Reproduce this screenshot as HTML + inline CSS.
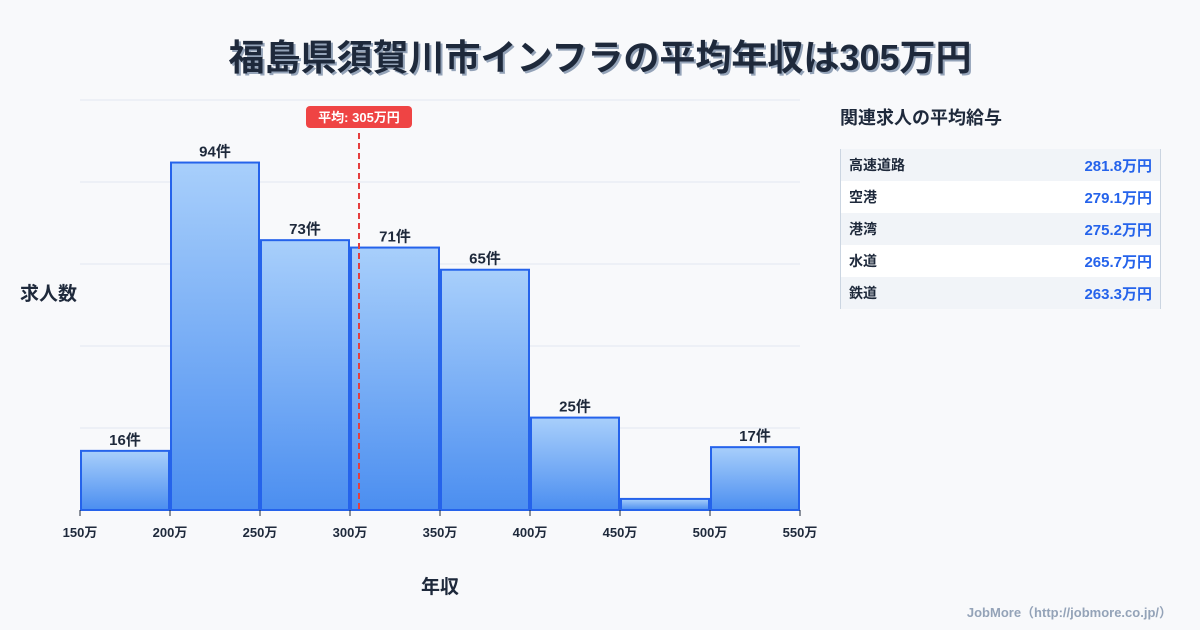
<!DOCTYPE html>
<html><head><meta charset="utf-8"><style>
body{margin:0;width:1200px;height:630px;background:#f8f9fb;font-family:"Liberation Sans","Noto Sans CJK JP",sans-serif;overflow:hidden;position:relative}
.title{position:absolute;left:0;width:1200px;top:29px;text-align:center;font-size:36px;font-weight:bold;color:#1e293b;text-shadow:2px 2px 0 #94a3b8;letter-spacing:0px}
.side{position:absolute;left:840px;top:104px;font-size:18px;font-weight:bold;color:#1e293b}
table{position:absolute;left:840px;top:149px;width:321px;border-collapse:collapse;border-left:1px solid #cbd5e1;border-right:1px solid #cbd5e1}
td{height:32px;padding:0 8px;font-size:14px;color:#1e293b;font-weight:bold}
td.v{text-align:right;color:#2563eb;font-size:15px}
tr:nth-child(odd){background:#f1f4f8}tr:nth-child(even){background:#fff}
.foot{position:absolute;right:28px;top:602px;font-size:13px;color:#94a3b8;font-weight:bold}
</style></head><body>
<div class="title">福島県須賀川市インフラの平均年収は305万円</div>
<svg id="chart" width="830" height="630" style="position:absolute;left:0;top:0">
<defs><linearGradient id="g" x1="0" y1="0" x2="0" y2="1"><stop offset="0" stop-color="#a8cffb"/><stop offset="1" stop-color="#4b8ef0"/></linearGradient></defs>
</svg>
<div class="side">関連求人の平均給与</div>
<table>
<tr><td>高速道路</td><td class="v">281.8万円</td></tr>
<tr><td>空港</td><td class="v">279.1万円</td></tr>
<tr><td>港湾</td><td class="v">275.2万円</td></tr>
<tr><td>水道</td><td class="v">265.7万円</td></tr>
<tr><td>鉄道</td><td class="v">263.3万円</td></tr>
</table>
<div class="foot">JobMore（http://jobmore.co.jp/）</div>
<script>
const binStarts=[150,200,250,300,350,400,450,500];
const counts=[16,94,73,71,65,25,3,17];
const tickLabels=["150万","200万","250万","300万","350万","400万","450万","500万","550万"];
const ticks=[150,200,250,300,350,400,450,500,550];
const avg=305;
const binW=50;
const NS="http://www.w3.org/2000/svg";
const svg=document.getElementById('chart');
const L=80,R=800,T=100,B=510;
const yMax=Math.max(...counts)*1.18;
const x=v=>L+(v-150)/400*(R-L);
const y=v=>B-v/yMax*(B-T);
function mk(t,a){const e=document.createElementNS(NS,t);for(const k in a)e.setAttribute(k,a[k]);svg.appendChild(e);return e;}
for(let i=0;i<=5;i++){const g=mk('line',{x1:L,x2:R,y1:T+i*(B-T)/5,y2:T+i*(B-T)/5,stroke:'#e2e8f0','stroke-width':1});

}
counts.forEach((c,i)=>{
const x0=x(binStarts[i])+1,x1=x(binStarts[i]+binW)-1;
const r=mk('rect',{x:x0,y:y(c),width:x1-x0,height:B-y(c),fill:'url(#g)',stroke:'#2563eb','stroke-width':2});


if(c>=10){const t=mk('text',{x:(x0+x1)/2,y:y(c)-6,'text-anchor':'middle','font-size':15,'font-weight':'bold',fill:'#1e293b'});t.textContent=c+'件';

}
});
ticks.forEach((v,i)=>{
const l=mk('line',{x1:x(v),x2:x(v),y1:B,y2:B+6,stroke:'#1e293b','stroke-width':1});


const t=mk('text',{x:x(v),y:B+27,'text-anchor':'middle','font-size':13,'font-weight':'bold',fill:'#1e293b'});t.textContent=tickLabels[i];


});
const ax=x(avg);
const al=mk('line',{x1:ax,x2:ax,y1:133,y2:B,stroke:'#e53e3e','stroke-width':2,'stroke-dasharray':'6,4'});


const ab=mk('rect',{x:ax-53,y:106,width:106,height:22,rx:4,fill:'#ef4444'});


const at=mk('text',{x:ax,y:122,'text-anchor':'middle','font-size':13,'font-weight':'bold',fill:'#fff'});at.textContent='平均: '+avg+'万円';


const yt=mk('text',{x:20,y:300,'font-size':19,'font-weight':'bold',fill:'#1e293b'});yt.textContent='求人数';


const xt=mk('text',{x:440,y:593,'text-anchor':'middle','font-size':19,'font-weight':'bold',fill:'#1e293b'});xt.textContent='年収';


</script>
</body></html>
